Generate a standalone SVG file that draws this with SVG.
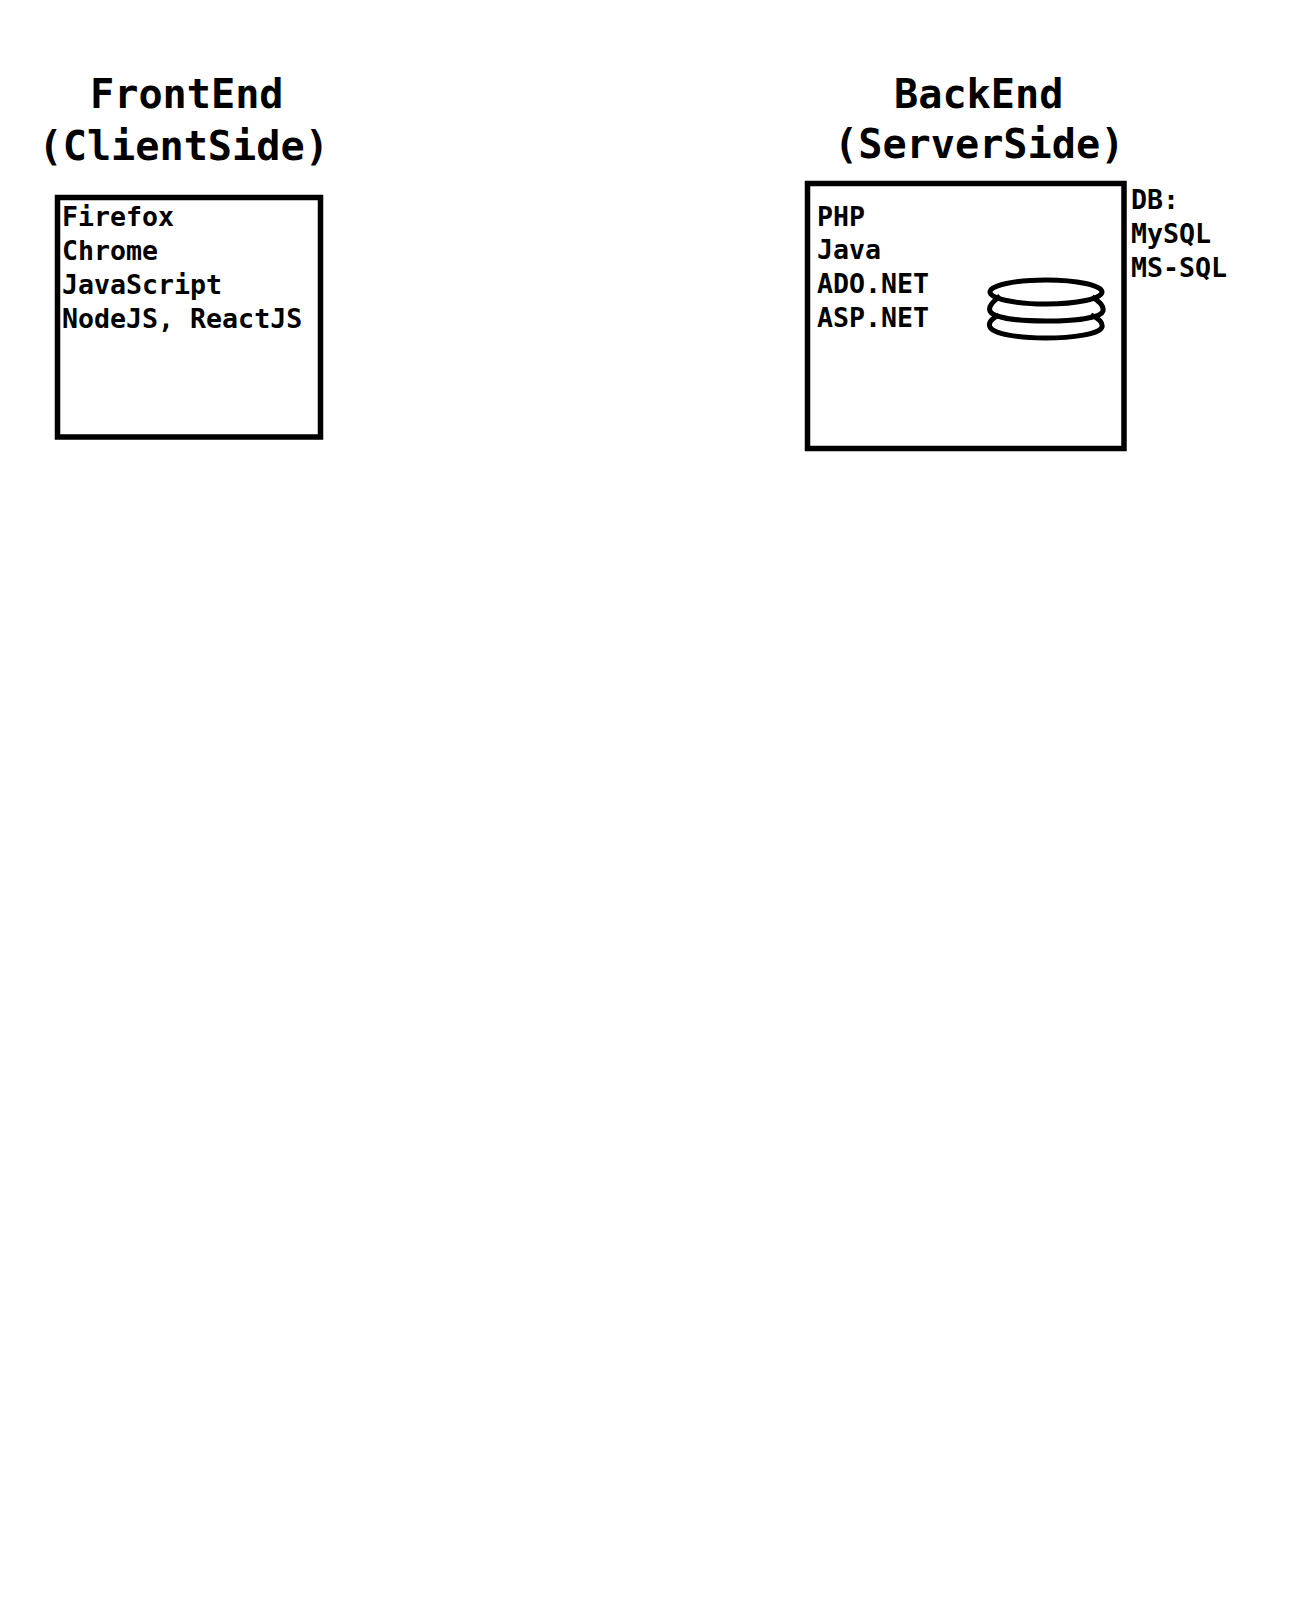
<svg xmlns="http://www.w3.org/2000/svg" width="1292" height="1624" viewBox="0 0 1292 1624">
<style>
text{font-family:"DejaVu Sans Mono","Liberation Mono",monospace;font-weight:700;fill:#000}
.h{font-size:40.2px}
.t{font-size:26.6px}
.b{fill:none;stroke:#000;stroke-width:5.500}
.e{fill:none;stroke:#000;stroke-width:5}
</style>
<rect width="1292" height="1624" fill="#fff"/>
<g id="frontend-title">
<text class="h" x="90" y="107.500">FrontEnd</text>
<text class="h" x="38.500" y="160">(ClientSide)</text>
</g>
<g id="frontend">
<rect class="b" x="57.500" y="197.500" width="263" height="239.500"/>
<text class="t" x="62" y="226">Firefox</text>
<text class="t" x="62" y="260">Chrome</text>
<text class="t" x="62" y="294">JavaScript</text>
<text class="t" x="62" y="328">NodeJS, ReactJS</text>
</g>
<g id="backend-title">
<text class="h" x="894" y="108">BackEnd</text>
<text class="h" x="834" y="157.500">(ServerSide)</text>
</g>
<g id="backend">
<rect class="b" x="807.500" y="183.500" width="316.500" height="265"/>
<text class="t" x="817" y="225.500">PHP</text>
<text class="t" x="817" y="259">Java</text>
<text class="t" x="817" y="293">ADO.NET</text>
<text class="t" x="817" y="327">ASP.NET</text>
</g>
<g id="database">
<ellipse class="e" cx="1046" cy="292" rx="56" ry="12"/>
<path class="e" d="M1000 296C993 302 988 306 990 311C993 318 1019 321 1046 321C1074 321 1101 318 1103 311C1104 306 1099 301 1092 297"/>
<path class="e" d="M999 315C991 319 988 323 990 327C993 334 1019 338 1045 338C1073 338 1100 334 1102 327C1103 323 1099 318 1091 315"/>
</g>
<g id="db-label">
<text class="t" x="1131" y="209">DB:</text>
<text class="t" x="1131" y="243">MySQL</text>
<text class="t" x="1131" y="277">MS-SQL</text>
</g>
<g id="connectors"></g>
</svg>
